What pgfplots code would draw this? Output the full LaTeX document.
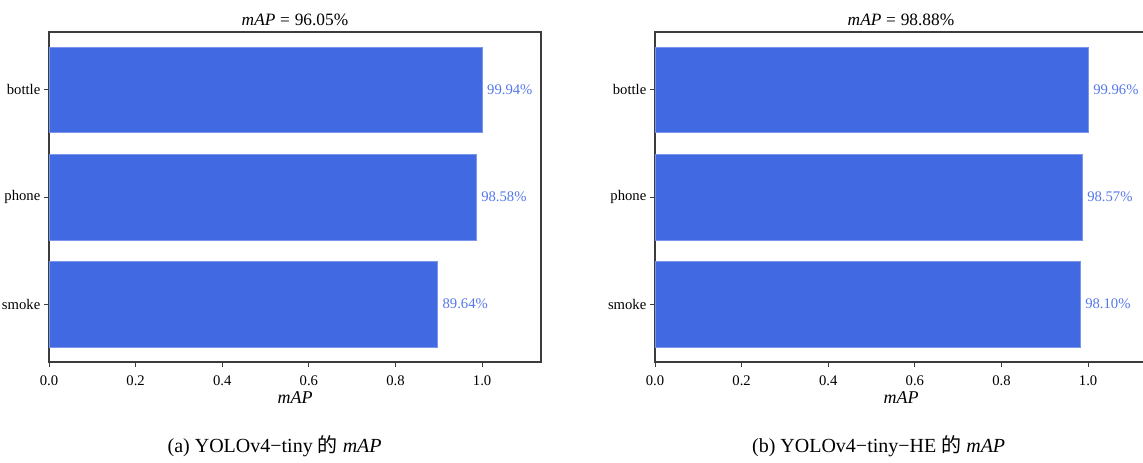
\documentclass[border=0pt]{standalone}
\usepackage{fontspec}
\setmainfont{Liberation Serif}
\newfontfamily\cjk{Noto Sans CJK SC}
\usepackage{pgfplots}
\pgfplotsset{compat=1.18}
\usepackage{pgfplotstable}
\definecolor{barblue}{RGB}{65,105,225}
\definecolor{labblue}{RGB}{85,120,235}
\definecolor{axgray}{RGB}{60,60,60}

\pgfplotstableread{
y x lab
0 0.8964 89.64\%
1 0.9858 98.58\%
2 0.9994 99.94\%
}\tabtiny
\pgfplotstableread{
y x lab
0 0.9810 98.10\%
1 0.9857 98.57\%
2 0.9996 99.96\%
}\tabtinyhe

\pgfplotsset{
  mapstyle/.style={
    scale only axis,
    width=369pt, height=247.5pt,
    anchor=north west,
    xbar, bar width=0.8,
    xmin=0, xmax=1.136,
    ymin=-0.54, ymax=2.54,
    ytick={0,1,2},
    yticklabels={smoke,phone,bottle},
    xtick={0,0.2,0.4,0.6,0.8,1.0},
    xtick pos=bottom, ytick pos=left,
    xticklabel style={/pgf/number format/fixed,/pgf/number format/fixed zerofill,/pgf/number format/precision=1, yshift=-3pt},
    yticklabel style={xshift=1pt},
    /pgf/number format/assume math mode=true,
    tick align=outside,
    major tick length=4pt,
    tick style={axgray, line width=0.6pt},
    axis line style={axgray, line width=0.8pt},
    xlabel={\textit{mAP}},
    xlabel style={yshift=3pt, font=\fontsize{13.5pt}{15pt}\selectfont},
    title style={yshift=-5pt, font=\fontsize{13pt}{15pt}\selectfont},
    font=\fontsize{11pt}{13pt}\selectfont,
    ticklabel style={font=\fontsize{11pt}{13pt}\selectfont},
    nodes near coords={\pgfplotspointmeta},
    point meta=explicit symbolic,
    every node near coord/.append style={font=\fontsize{11pt}{13pt}\selectfont, color=labblue, anchor=west, xshift=0.5pt},
  }
}

\begin{document}
\begin{tikzpicture}
\path[use as bounding box] (0,0) rectangle (857.25pt,-346.5pt);
\begin{axis}[mapstyle, at={(36.75pt,-24pt)}, title={\textit{mAP}\;=\;96.05\%}]
\addplot[fill=barblue, draw=barblue!70!white, line width=0.4pt] table[x=x, y=y, meta=lab] {\tabtiny};
\end{axis}
\begin{axis}[mapstyle, at={(491.25pt,-24pt)}, title={\textit{mAP}\;=\;98.88\%}]
\addplot[fill=barblue, draw=barblue!70!white, line width=0.4pt] table[x=x, y=y, meta=lab] {\tabtinyhe};
\end{axis}
\node[font=\fontsize{15pt}{17pt}\selectfont] at (206pt,-335pt) {(a) YOLOv4−tiny {\cjk 的} \textit{mAP}};
\node[font=\fontsize{15pt}{17pt}\selectfont] at (659pt,-335pt) {(b) YOLOv4−tiny−HE {\cjk 的} \textit{mAP}};
\end{tikzpicture}
\end{document}
